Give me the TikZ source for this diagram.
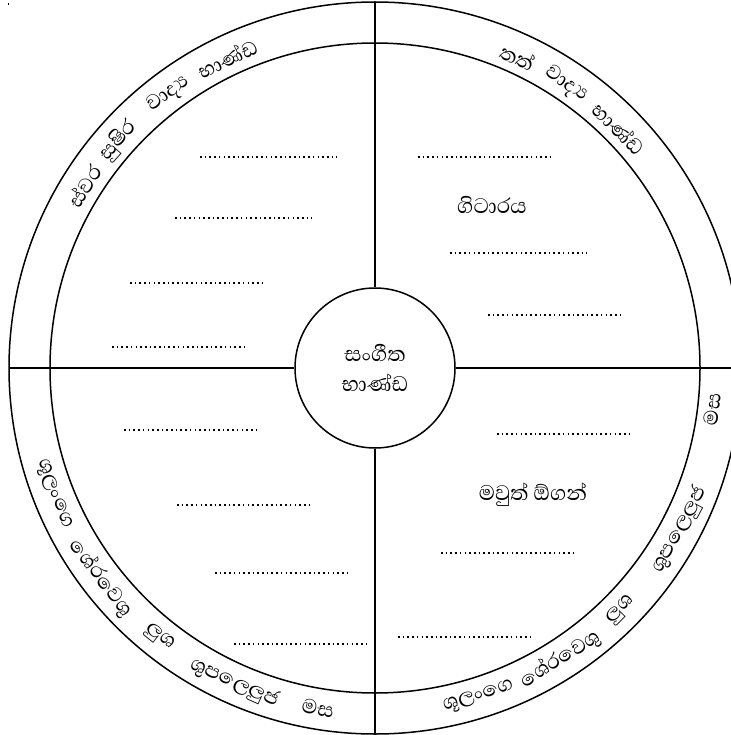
\documentclass[tikz,border=0pt]{standalone}
\usepackage{fontspec}
\newfontfamily\sinhfont[Script=Sinhala]{Abhaya Libre}
\begin{document}
\begin{tikzpicture}[x=1pt,y=1pt,line width=1.5pt,
  lbl/.style={font=\sinhfont\fontsize{27}{30}\selectfont,inner sep=0pt},
  arcword/.style={font=\sinhfont\fontsize{26}{30}\selectfont,inner sep=0pt},
  blank/.style={line width=1.6pt,dash pattern=on 1.6pt off 3.1pt}]
\useasboundingbox (0,0) rectangle (730,-735);
\fill (7.5,-3.5) rectangle (9,-5);
\begin{scope}[shift={(375,-368)}]
  \coordinate (c) at (0,0);
  \draw (c) circle (366);
  \draw (c) circle (325);
  \coordinate (pN) at (90:366);
  \coordinate (pS) at (270:366);
  \coordinate (pW) at (180:366);
  \coordinate (pE) at (0:366);
  \node[circle,draw,fill=white,minimum size=160pt,inner sep=0pt,align=center,
        font=\sinhfont\fontsize{27}{30}\selectfont] (hub) at (c) {සංගීත\\භාණ්ඩ};
  \draw (hub.north) -- (pN);
  \draw (hub.south) -- (pS);
  \draw (hub.west) -- (pW);
  \draw (hub.east) -- (pE);
  % top-left arc
  \foreach \w/\a [count=\i] in {ස්වර/148,සුෂිර/138.5,වාද්‍ය/127,භාණ්ඩ/115.5}
    \node[arcword,rotate=\a-90] (tl\i) at (\a:343) {\w};
  % top-right arc
  \foreach \w/\a [count=\i] in {තත්/65.3,වාද්‍ය/56,භාණ්ඩ/44.5}
    \node[arcword,rotate=\a-90] (tr\i) at (\a:342) {\w};
  % bottom-left arc
  \foreach \w/\a [count=\i] in {ශූලංගෙ/201.5,ශේරවෙශු/217.5,ලුශ/231.4,ශුපලෙලුජ/246,මස/260.5}
    \node[arcword,rotate=\a+90] (bl\i) at (\a:345) {\w};
  % bottom-right arc
  \foreach \w/\a/\r [count=\i] in {ශූලංගෙ/287.5/345,ශේරවෙශු/302.5/345,ලුශ/315.5/345,ශුපලෙලුජ/332/345,මස/353/340}
    \node[arcword,rotate=\a+90] (br\i) at (\a:\r) {\w};
\end{scope}
\node[lbl] (guitar) at (492,-205) {ගිටාරය};
\node[lbl] (mouth) at (533,-495) {මවුත් ඕගන්};
% blanks
\foreach \xa/\xb/\yy in {200/337/157,175/312/218,130/266/283,112/248/347,
  418/553/157,450/587/253,488/624/315,
  124/260/430,177/311/505,215/350/573,234/368/644,
  497/631/434,441/575/553,398/533/637}
  \draw[blank] (\xa,-\yy) -- (\xb,-\yy);
\end{tikzpicture}
\end{document}
